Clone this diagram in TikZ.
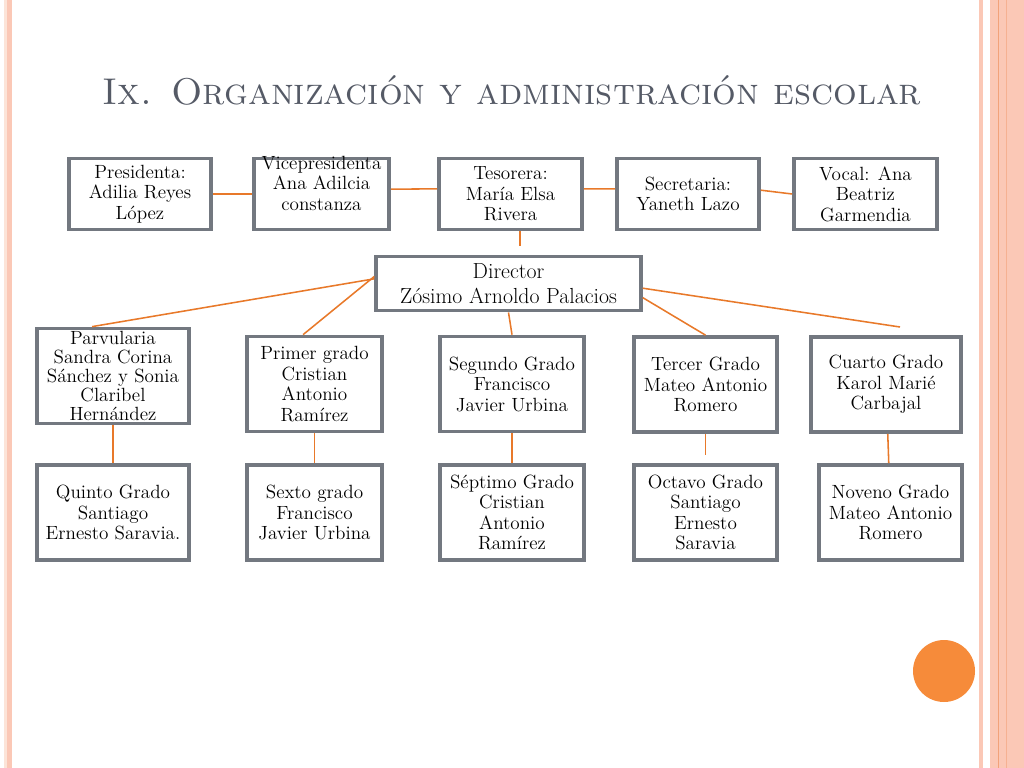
\documentclass[tikz,border=0pt]{standalone}
\usepackage{tikz}
\usetikzlibrary{positioning, calc}
\definecolor{boxgray}{HTML}{737880}
\definecolor{linkorange}{HTML}{E8792A}
\definecolor{titlegray}{HTML}{555A66}
\definecolor{dotorange}{HTML}{F68B3A}
\definecolor{stripesalmon}{HTML}{FBC8B6}
\definecolor{stripepale}{HTML}{FCE4D8}
\definecolor{stripedark}{HTML}{F2A27A}
\tikzset{
    box_member/.style={
        rectangle, draw=boxgray, line width=2.5pt, fill=white,
        minimum height=1.78cm, inner sep=0pt,
        align=center, font=\fontsize{13.6}{14.6}\selectfont
    },
    box_grade/.style={
        box_member, minimum height=2.38cm
    },
    box_director/.style={
        box_member, minimum height=1.36cm,
        font=\fontsize{15.5}{17.5}\selectfont
    },
    link_line/.style={
        draw=linkorange, line width=1.1pt
    }
}

\begin{document}
\begin{tikzpicture}[x=0.025cm, y=-0.025cm]

    \useasboundingbox (0,0) rectangle (1024,768);

    % side stripes
    \fill[stripepale] (4,0) rectangle (6.5,768);
    \fill[stripesalmon] (7,0) rectangle (12,768);
    \fill[stripesalmon] (979,0) rectangle (983,768);
    \fill[stripesalmon] (990,0) rectangle (1024,768);
    \fill[stripedark] (997.5,0) rectangle (999,768);
    \fill[stripedark!60!stripesalmon] (1005.5,0) rectangle (1006.5,768);

    \node[text=titlegray, font=\fontsize{26.5}{30}\selectfont] (title) at (512,90)
        {\textsc{Ix. Organización y administración escolar}};

    % consejo
    \node[box_member, minimum width=3.55cm] (pres) at (140,194) {Presidenta:\\Adilia Reyes\\López};
    \node[box_member, minimum width=3.38cm] (vice) at (321.5,194)
        {\raisebox{6pt}[\height][\depth]{\begin{tabular}{@{}c@{}}Vicepresidenta\\Ana Adilcia\\constanza\end{tabular}}};
    \node[box_member, minimum width=3.58cm] (tes) at (510.5,194) {Tesorera:\\María Elsa\\Rivera};
    \node[box_member, minimum width=3.55cm] (sec) at (688,194) {Secretaria:\\Yaneth Lazo};
    \node[box_member, minimum width=3.58cm] (vocal) at (865.5,194) {Vocal: Ana\\Beatriz\\Garmendia};

    \node[box_director, minimum width=6.62cm] (dir) at (508.5,283.5) {Director\\Zósimo Arnoldo Palacios};

    % grados
    \node[box_grade, minimum width=3.80cm, font=\fontsize{13.6}{13.6}\selectfont] (parv) at (113,376) {Parvularia\\Sandra Corina\\Sánchez y Sonia\\Claribel\\Hernández};
    \node[box_grade, minimum width=3.38cm] (primer) at (314.5,384) {Primer grado\\Cristian\\Antonio\\Ramírez};
    \node[box_grade, minimum width=3.60cm] (segundo) at (512,384) {Segundo Grado\\Francisco\\Javier Urbina};
    \node[box_grade, minimum width=3.58cm] (tercer) at (705.5,384.5) {Tercer Grado\\Mateo Antonio\\Romero};
    \node[box_grade, minimum width=3.75cm] (cuarto) at (886,384.5) {Cuarto Grado\\Karol Marié\\Carbajal};

    \node[box_grade, minimum width=3.80cm] (quinto) at (113,512.5) {Quinto Grado\\Santiago\\Ernesto Saravia.};
    \node[box_grade, minimum width=3.38cm] (sexto) at (314.5,512.5) {Sexto grado\\Francisco\\Javier Urbina};
    \node[box_grade, minimum width=3.60cm] (septimo) at (512,512.5) {Séptimo Grado\\Cristian\\Antonio\\Ramírez};
    \node[box_grade, minimum width=3.58cm] (octavo) at (705.5,512.5) {Octavo Grado\\Santiago\\Ernesto\\Saravia};
    \node[box_grade, minimum width=3.58cm] (noveno) at (890.5,512.5) {Noveno Grado\\Mateo Antonio\\Romero};

    \coordinate (tes_tip) at (520,246);
    \coordinate (cuarto_tip) at (900,327);
    \coordinate (octavo_tip) at (705.5,455);

    \draw[link_line] (pres) -- (vice);
    \draw[link_line] (vice.4) -- (tes.176);
    \draw[link_line] (tes.4) -- (sec.176);
    \draw[link_line] (sec.3) -- (vocal.180);
    \draw[link_line] (tes_tip |- tes.south) -- (tes_tip);

    \draw[link_line] (dir.178) -- (parv.113);
    \draw[link_line] (dir.177) -- (primer.103);
    \draw[link_line] (dir.south) -- (segundo.north);
    \draw[link_line] (dir.-6) -- (tercer.north);
    \draw[link_line] (dir.-2) -- (cuarto_tip);

    \draw[link_line] (parv) -- (quinto);
    \draw[link_line] (primer) -- (sexto);
    \draw[link_line] (segundo) -- (septimo);
    \draw[link_line] (tercer) -- (octavo_tip);
    \draw[link_line] (cuarto) -- (noveno);

    \fill[dotorange] (944,671) circle (31);

\end{tikzpicture}
\end{document}
